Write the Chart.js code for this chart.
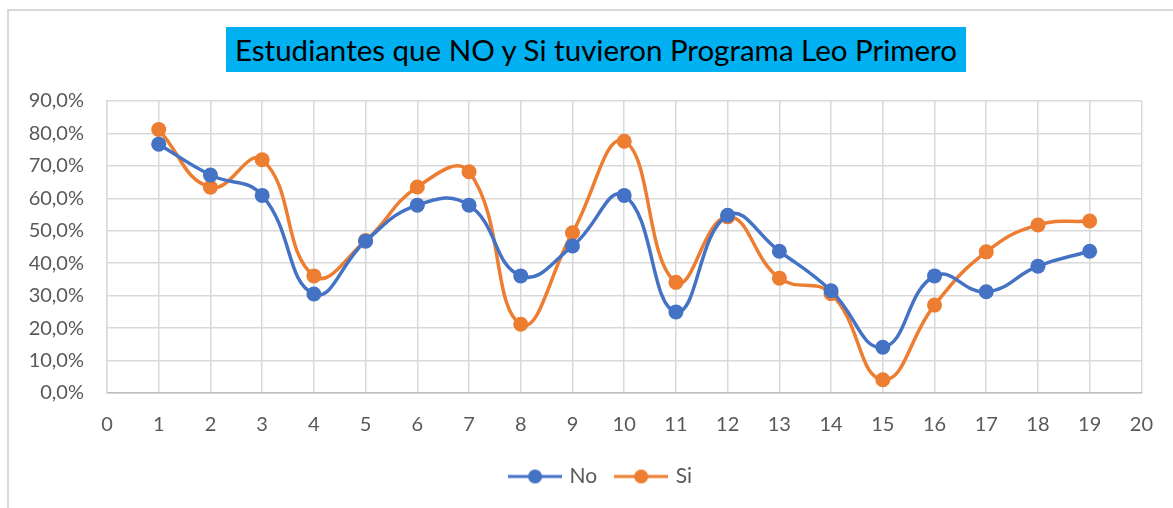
<!DOCTYPE html>
<html>
<head>
<meta charset="utf-8">
<script src="https://cdn.jsdelivr.net/npm/chart.js@4"></script>
<style>
  html, body { margin: 0; padding: 0; background: #fff; }
  #wrap { position: relative; width: 1173px; height: 508px; overflow: hidden; }
  #frame { position: absolute; left: 7px; top: 9px; width: 1200px; height: 600px;
           border-left: 2px solid #d9d9d9; border-top: 2px solid #d9d9d9; }
  #title { position: absolute; left: 226px; top: 27px; width: 740px; height: 45px;
           background: #00b0f0; color: #000; font-family: Lato, sans-serif; font-size: 29.5px;
           line-height: 45px; text-align: center; white-space: nowrap; }
  canvas { position: absolute; left: 0; top: 0; }
</style>
</head>
<body>
<div id="wrap">
  <div id="frame"></div>
  <canvas id="myChart" width="1173" height="508"></canvas>
  <div id="title">Estudiantes que NO y Si tuvieron Programa Leo Primero</div>
</div>
<script>
const xValues = [1, 2, 3, 4, 5, 6, 7, 8, 9, 10, 11, 12, 13, 14, 15, 16, 17, 18, 19];
const noValues = [76.7, 67.2, 60.9, 30.5, 46.8, 57.9, 57.9, 36.1, 45.3, 60.9, 25.0, 54.8, 43.7, 31.5, 14.1, 36.1, 31.2, 39.1, 43.7];
const siValues = [81.2, 63.4, 71.9, 36.1, 47.0, 63.5, 68.2, 21.2, 49.4, 77.6, 34.1, 54.3, 35.4, 30.6, 4.1, 27.1, 43.5, 51.8, 53.0];
const yTicks = { min: 0, max: 90, step: 10 };
const xTicks = { min: 0, max: 20, step: 1 };

const blue = '#4472c4';
const orange = '#ed7d31';

// little line-with-dot marker for the legend
function legendMark(color) {
    let c = document.createElement('canvas');
    c.width = 54;
    c.height = 16;
    let g = c.getContext('2d');
    g.strokeStyle = color;
    g.lineWidth = 3;
    g.beginPath();
    g.moveTo(0, 8);
    g.lineTo(54, 8);
    g.stroke();
    g.fillStyle = color;
    g.beginPath();
    g.arc(27, 8, 7, 0, Math.PI * 2);
    g.fill();
    return c;
}

function toPoints(values) {
    return values.map((v, i) => ({ x: xValues[i], y: v }));
}

// centre the legend under the plot area rather than the whole canvas
const shiftLegend = {
    id: 'shiftLegend',
    afterLayout: (chart) => {
        chart.legend.left += 58;
    }
};

let ctx = document.getElementById('myChart').getContext('2d');

let myChart = new Chart(ctx, {
    type: 'line',
    data: {
        datasets: [{
            label: 'No',
            data: toPoints(noValues),
            borderColor: blue,
            backgroundColor: blue,
            borderWidth: 3.5,
            pointRadius: 7.5,
            pointBorderWidth: 0,
            pointStyle: 'circle',
            tension: 0.45,
            fill: false
        }, {
            label: 'Si',
            data: toPoints(siValues),
            borderColor: orange,
            backgroundColor: orange,
            borderWidth: 3.5,
            pointRadius: 7.5,
            pointBorderWidth: 0,
            pointStyle: 'circle',
            tension: 0.45,
            fill: false
        }]
    },
    plugins: [shiftLegend],
    options: {
        responsive: false,
        animation: false,
        layout: {
            padding: { top: 101, right: 28, bottom: 11, left: 0 }
        },
        plugins: {
            title: { display: false },
            tooltip: { enabled: false },
            legend: {
                position: 'bottom',
                labels: {
                    usePointStyle: true,
                    pointStyleWidth: 48,
                    color: '#595959',
                    font: { family: 'Lato', size: 21 },
                    padding: 20,
                    generateLabels: (chart) => chart.data.datasets.map((ds, i) => ({
                        text: ds.label,
                        pointStyle: legendMark(ds.borderColor),
                        fillStyle: ds.borderColor,
                        strokeStyle: ds.borderColor,
                        lineWidth: 0,
                        fontColor: '#595959',
                        datasetIndex: i
                    }))
                }
            }
        },
        scales: {
            x: {
                type: 'linear',
                min: xTicks.min,
                max: xTicks.max,
                ticks: {
                    stepSize: xTicks.step,
                    color: '#595959',
                    font: { family: 'Lato', size: 20 },
                    padding: 20,
                    maxRotation: 0
                },
                grid: { color: '#d9d9d9', lineWidth: 1.5, drawTicks: false },
                border: { color: '#bfbfbf', width: 1.5 },
                afterFit: (scale) => { scale.height = 53; }
            },
            y: {
                min: yTicks.min,
                max: yTicks.max,
                ticks: {
                    stepSize: yTicks.step,
                    color: '#595959',
                    font: { family: 'Lato', size: 20 },
                    padding: 23,
                    callback: (v) => v.toFixed(1).replace('.', ',') + '%'
                },
                grid: { color: '#d9d9d9', lineWidth: 1.5, drawTicks: false },
                border: { color: '#d9d9d9', width: 1.5 },
                afterFit: (scale) => { scale.width = 107; }
            }
        }
    }
});
</script>
</body>
</html>
